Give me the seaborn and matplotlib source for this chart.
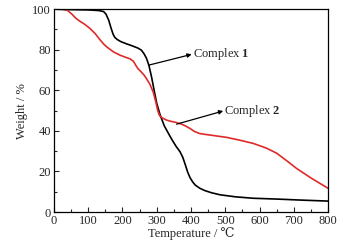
import numpy as np
import pandas as pd
import matplotlib
matplotlib.use("Agg")
import matplotlib.pyplot as plt
import seaborn as sns
from matplotlib.ticker import MultipleLocator

# Complex 1 (black)
t1 = [0, 30, 100, 130, 145, 152, 160, 167, 173, 178, 185, 195, 210, 230, 245, 255, 263, 270, 277, 285, 293, 300, 310, 322, 334, 345, 356, 368, 376, 384, 390, 397, 405, 413, 426, 440, 460, 485, 530, 581, 650, 720, 800]
w1 = [100, 99.8, 99.6, 99.3, 98.8, 97.5, 94.5, 90.5, 87.5, 86.0, 85.0, 84.0, 83.0, 81.8, 80.8, 79.8, 78.0, 75.8, 72.4, 66.5, 59.5, 53.6, 47.8, 42.5, 38.8, 35.5, 32.5, 29.7, 27.0, 23.0, 19.8, 17.0, 14.8, 13.2, 11.7, 10.6, 9.5, 8.5, 7.5, 6.8, 6.4, 5.9, 5.4]
# Complex 2 (red)
t2 = [0, 27, 40, 52, 64, 76, 90, 105, 120, 134, 145, 154, 165, 175, 193, 210, 222, 232, 240, 246, 255, 263, 271, 280, 290, 297, 303, 308, 315, 329, 339, 355, 368, 382, 397, 410, 425, 440, 470, 504, 540, 582, 620, 650, 680, 708, 750, 800]
w2 = [100, 100, 99.3, 97.6, 95.5, 94.0, 92.5, 90.5, 88.0, 85.0, 82.8, 81.4, 80.0, 78.8, 77.3, 76.2, 75.5, 74.3, 72.0, 70.5, 69.0, 67.5, 65.5, 63.0, 59.0, 54.5, 50.0, 47.6, 46.5, 45.3, 44.8, 44.2, 43.6, 42.6, 41.2, 39.7, 38.7, 38.3, 37.6, 36.8, 35.5, 33.8, 31.5, 29.0, 25.2, 21.5, 16.8, 11.7]

df = pd.concat([
    pd.DataFrame({"T": t1, "W": w1, "s": "Complex 1"}),
    pd.DataFrame({"T": t2, "W": w2, "s": "Complex 2"}),
])

sns.set_style("ticks")
plt.rcParams['font.family'] = ['Liberation Serif', 'DejaVu Serif']
plt.rcParams['mathtext.fontset'] = 'custom'
plt.rcParams['mathtext.rm'] = 'Liberation Serif'
plt.rcParams['mathtext.bf'] = 'Liberation Serif:bold'

fig = plt.figure(figsize=(3.57, 2.46), dpi=100)
ax = fig.add_axes([0.151, 0.138, 0.768, 0.825])
sns.lineplot(data=df, x="T", y="W", hue="s", palette={"Complex 1": "black", "Complex 2": "#e02a2a"},
             linewidth=1.2, ax=ax, legend=False, sort=False)

ax.set_xlim(0, 800)
ax.set_ylim(0, 100)
ax.xaxis.set_major_locator(MultipleLocator(100))
ax.xaxis.set_minor_locator(MultipleLocator(50))
ax.yaxis.set_major_locator(MultipleLocator(20))
ax.yaxis.set_minor_locator(MultipleLocator(10))
ax.tick_params(which='both', direction='in', labelsize=9, pad=2)
ax.tick_params(which='major', length=3.5, width=0.8)
ax.tick_params(which='minor', length=2, width=0.8)
for sp in ax.spines.values():
    sp.set_visible(True)
    sp.set_linewidth(0.9)
    sp.set_color('black')
ax.set_xlabel("Temperature / ℃", fontsize=9, labelpad=0)
ax.set_ylabel("Weight / %", fontsize=9, labelpad=3)

arrow = dict(arrowstyle='-|>', color='black', lw=0.9, mutation_scale=6, shrinkA=0, shrinkB=0)
ax.text(405, 77.7, "Complex $\\mathbf{1}$", fontsize=9, va='center', ha='left')
ax.annotate("", xy=(402, 77.7), xytext=(277, 72.4), arrowprops=arrow)
ax.text(497, 49.8, "Complex $\\mathbf{2}$", fontsize=9, va='center', ha='left')
ax.annotate("", xy=(494, 49.8), xytext=(358, 43.3), arrowprops=arrow)

fig.savefig("out.png", dpi=100, facecolor='white')
